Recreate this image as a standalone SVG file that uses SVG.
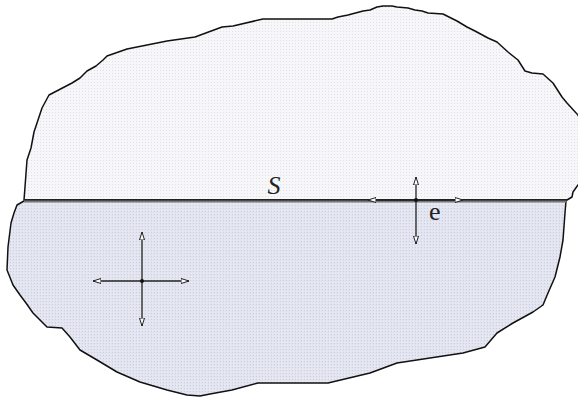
<svg xmlns="http://www.w3.org/2000/svg" width="578" height="397" viewBox="0 0 578 397">
  <style>
    .outline { stroke: #111; stroke-width: 1.5; stroke-linejoin: round; }
    .arrow { stroke: #222; stroke-width: 1.3; fill: none; marker-start: url(#head); marker-end: url(#head); }
    .dot { fill: #111; }
    .label { font-family: 'Liberation Serif', 'Times New Roman', serif; fill: #222; }
  </style>
  <defs>
    <pattern id="dotsUpper" width="3" height="3" patternUnits="userSpaceOnUse">
      <rect width="3" height="3" fill="#f7f7fa"/>
      <rect x="1" y="1" width="1" height="1" fill="#dfe1ea"/>
    </pattern>
    <pattern id="dotsLower" width="3" height="3" patternUnits="userSpaceOnUse">
      <rect width="3" height="3" fill="#e2e5f0"/>
      <rect x="1" y="1" width="1" height="1" fill="#cacee0"/>
      <rect x="2" y="0" width="1" height="1" fill="#eceef5"/>
    </pattern>
    <marker id="head" viewBox="0 0 8 6" refX="8" refY="3" markerWidth="8" markerHeight="6" markerUnits="userSpaceOnUse" orient="auto-start-reverse">
      <path d="M0,0.5 L8,3 L0,5.5 Z" fill="#fff" stroke="#222" stroke-width="1"/>
    </marker>
  </defs>

  <g id="upper-region">
    <path class="outline" fill="url(#dotsUpper)" d="M24,200 L25,187 L27,160 L31,148 L34,132 L42,108 L49,95 L72,83 L80,78 L87,71 L96,66 L103,60 L107,56 L127,49 L167,41 L195,37 L222,27 L233,26 L263,19 L332,19 L338,17 L348,15 L363,11 L370,10 L377,7 L383,6 L392,6 L397,7 L408,8 L415,10 L422,11 L428,13 L443,14 L457,21 L467,27 L475,31 L488,38 L497,42 L508,52 L518,60 L525,71 L532,73 L543,74 L553,83 L562,97 L567,103 L578,115 L584,130 L584,180 L578,185 L573,192 L572,197 L567,200 Z"/>
  </g>

  <g id="lower-region">
    <path class="outline" fill="url(#dotsLower)" d="M24,201 L17,205 L14,213 L11,223 L8,247 L7,270 L13,285 L20,295 L26,303 L33,313 L47,327 L62,328 L70,337 L80,350 L97,360 L117,372 L140,382 L167,390 L187,395 L200,396 L210,394 L232,390 L258,383 L328,383 L370,373 L397,363 L463,353 L485,347 L497,333 L513,323 L533,312 L543,305 L548,293 L555,277 L560,257 L563,240 L565,213 L566,201 Z"/>
  </g>

  <g id="interface-S">
    <line x1="24" y1="199.5" x2="567" y2="199.5" stroke="#222" stroke-width="1"/>
    <line x1="24" y1="201.5" x2="566" y2="201.5" stroke="#777" stroke-width="2"/>
    <text class="label" x="274" y="194" font-family="Liberation Serif, serif" font-size="26" font-style="italic" text-anchor="middle">S</text>
  </g>

  <g id="connectors">
    <line class="arrow" x1="142" y1="326" x2="142" y2="232"/>
    <line class="arrow" x1="93" y1="281" x2="189" y2="281"/>
    <line class="arrow" x1="416" y1="244" x2="416" y2="177"/>
    <line class="arrow" x1="368" y1="200" x2="463" y2="200"/>
  </g>

  <g id="interior-point">
    <circle class="dot" cx="142" cy="281" r="2"/>
  </g>

  <g id="boundary-point">
    <circle class="dot" cx="416" cy="200" r="2"/>
    <text class="label" x="429" y="220" font-family="Liberation Serif, serif" font-size="26">e</text>
  </g>
</svg>
